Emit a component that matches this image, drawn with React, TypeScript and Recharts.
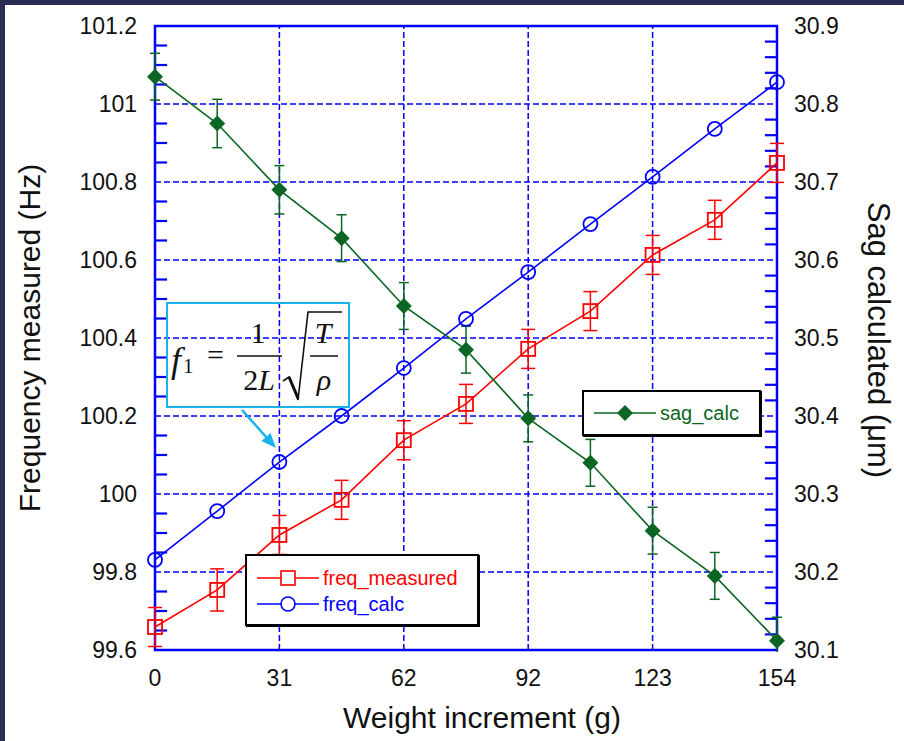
import React from 'react'
import { ComposedChart, Line, XAxis, YAxis, ErrorBar, ReferenceLine, ReferenceArea } from 'recharts'

// weight increments (g)
const weights = [0, 15.4, 30.8, 46.2, 61.6, 77, 92.4, 107.8, 123.2, 138.6, 154]
// left axis (Hz)
const freqMeasured = [99.659, 99.754, 99.895, 99.985, 100.138, 100.231, 100.372, 100.469, 100.613, 100.703, 100.849]
const freqMeasuredErr = [0.05, 0.054, 0.05, 0.05, 0.05, 0.05, 0.05, 0.05, 0.05, 0.05, 0.05]
const freqCalc = [99.831, 99.956, 100.082, 100.2, 100.323, 100.449, 100.569, 100.692, 100.813, 100.936, 101.056]
// right axis (um)
const sagCalc = [30.835, 30.775, 30.69, 30.628, 30.541, 30.485, 30.397, 30.34, 30.253, 30.195, 30.112]
const sagErr = [0.03, 0.031, 0.031, 0.03, 0.03, 0.03, 0.03, 0.03, 0.03, 0.03, 0.03]

const xTicks = [0, 30.8, 61.6, 92.4, 123.2, 154]
const xTickLabels = ['0', '31', '62', '92', '123', '154']
const leftMajor = [99.6, 99.8, 100, 100.2, 100.4, 100.6, 100.8, 101, 101.2]
const rightMajor = [30.1, 30.2, 30.3, 30.4, 30.5, 30.6, 30.7, 30.8, 30.9]

const LEFT_DOMAIN: [number, number] = [99.6, 101.2]
const RIGHT_DOMAIN: [number, number] = [30.1, 30.9]

const W = 904
const H = 741
const PLOT_LEFT = 155
const PLOT_RIGHT = 777
const PLOT_TOP = 26
const PLOT_BOTTOM = 650
const AXIS_W = 60
const XAXIS_H = 40
const MINOR_LEN = 3 // inward tick length, in x data units

const BLUE = '#0000ff'
const RED = '#ff0000'
const GREEN = '#0b6623'
const CYAN = '#1ab2ea'
const FRAME = '#2b2c54'
const SANS = '"Liberation Sans", Arial, sans-serif'
const SERIF = '"Liberation Serif", "Times New Roman", serif'

const withMinor = (majors: number[], parts: number) => {
  const out: number[] = []
  majors.forEach((m, i) => {
    if (i < majors.length - 1) {
      const step = (majors[i + 1] - m) / parts
      for (let k = 1; k < parts; k++) out.push(+(m + step * k).toFixed(4))
    }
  })
  return out
}
const leftMinor = withMinor(leftMajor, 4)
const rightMinor = withMinor(rightMajor, 5)
// the right axis keeps overflow clipping, so its minor marks are placed on the left scale
const rightToLeft = (v: number) =>
  LEFT_DOMAIN[0] + ((v - RIGHT_DOMAIN[0]) / (RIGHT_DOMAIN[1] - RIGHT_DOMAIN[0])) * (LEFT_DOMAIN[1] - LEFT_DOMAIN[0])

const data = weights.map((w, i) => ({
  w,
  measured: freqMeasured[i],
  measuredErr: freqMeasuredErr[i],
  calc: freqCalc[i],
  sag: sagCalc[i],
  sagErr: sagErr[i],
}))

const LeftTick = (props: any) => {
  const { y, payload } = props
  return (
    <text x={PLOT_LEFT - 18} y={y} dy="0.36em" textAnchor="end" fontSize={23} fill="#111" fontFamily={SANS}>
      {String(parseFloat(payload.value.toFixed(1)))}
    </text>
  )
}

const RightTick = (props: any) => {
  const { y, payload } = props
  return (
    <text x={PLOT_RIGHT + 17} y={y} dy="0.36em" textAnchor="start" fontSize={23} fill="#111" fontFamily={SANS}>
      {payload.value.toFixed(1)}
    </text>
  )
}

const BottomTick = (props: any) => {
  const { x, index } = props
  return (
    <text x={x} y={PLOT_BOTTOM + 36} textAnchor="middle" fontSize={23} fill="#111" fontFamily={SANS}>
      {xTickLabels[index]}
    </text>
  )
}

const SquareDot = (p: any) => {
  if (p.cx == null || p.cy == null) return <g key={p.index} />
  return <rect key={p.index} x={p.cx - 7} y={p.cy - 7} width={14} height={14} fill="none" stroke={RED} strokeWidth={1.8} />
}

const CircleDot = (p: any) => {
  if (p.cx == null || p.cy == null) return <g key={p.index} />
  return <circle key={p.index} cx={p.cx} cy={p.cy} r={7} fill="none" stroke={BLUE} strokeWidth={1.8} />
}

const DiamondDot = (p: any) => {
  if (p.cx == null || p.cy == null) return <g key={p.index} />
  const { cx, cy } = p
  return <polygon key={p.index} points={`${cx},${cy - 8} ${cx + 8},${cy} ${cx},${cy + 8} ${cx - 8},${cy}`} fill={GREEN} />
}

const legendBox: React.CSSProperties = {
  position: 'absolute',
  background: '#fff',
  border: '2px solid #000',
  boxShadow: '1px 1px 0 #000',
  boxSizing: 'border-box',
  fontFamily: SANS,
  fontSize: 20,
}

const LegendRow = ({ color, label, marker }: { color: string; label: string; marker: React.ReactNode }) => (
  <div style={{ display: 'flex', alignItems: 'center', height: 26, color }}>
    <svg width={66} height={20} style={{ marginLeft: 10 }}>
      <line x1={0} x2={62} y1={10} y2={10} stroke={color} strokeWidth={1.5} />
      {marker}
    </svg>
    <span>{label}</span>
  </div>
)

export default function App() {
  return (
    <div style={{ position: 'absolute', left: 0, top: 0, width: W, height: H, background: FRAME }}>
      <div style={{ position: 'absolute', left: 5, top: 5, right: 0, bottom: 0, background: '#fff' }} />
      <div style={{ position: 'absolute', left: 0, top: 0 }}>
        <ComposedChart
          width={W}
          height={H}
          data={data}
          margin={{
            top: PLOT_TOP,
            right: W - PLOT_RIGHT - AXIS_W,
            bottom: H - PLOT_BOTTOM - XAXIS_H,
            left: PLOT_LEFT - AXIS_W,
          }}
        >
          <XAxis
            dataKey="w"
            type="number"
            domain={[0, 154]}
            ticks={xTicks}
            interval={0}
            height={XAXIS_H}
            axisLine={false}
            tickLine={false}
            tick={<BottomTick />}
          />
          <YAxis
            yAxisId="left"
            domain={LEFT_DOMAIN}
            ticks={leftMajor}
            interval={0}
            width={AXIS_W}
            axisLine={false}
            tickLine={false}
            tick={<LeftTick />}
          />
          <YAxis
            yAxisId="right"
            orientation="right"
            domain={RIGHT_DOMAIN}
            ticks={rightMajor}
            interval={0}
            allowDataOverflow
            width={AXIS_W}
            axisLine={false}
            tickLine={false}
            tick={<RightTick />}
          />
          <ReferenceArea yAxisId="left" x1={0} x2={154} y1={99.6} y2={101.2} fill="none" stroke={BLUE} strokeWidth={2.5} />
          {leftMajor.slice(1, -1).map((v) => (
            <ReferenceLine key={'h' + v} yAxisId="left" y={v} stroke={BLUE} strokeWidth={1.5} strokeDasharray="6 3" />
          ))}
          {xTicks.slice(1, -1).map((v) => (
            <ReferenceLine key={'v' + v} yAxisId="left" x={v} stroke={BLUE} strokeWidth={1.5} strokeDasharray="6 3" />
          ))}
          {leftMinor.map((v) => (
            <ReferenceLine
              key={'lm' + v}
              yAxisId="left"
              segment={[{ x: 0, y: v }, { x: MINOR_LEN, y: v }]}
              stroke={BLUE}
              strokeWidth={2.2}
            />
          ))}
          {rightMinor.map((v) => (
            <ReferenceLine
              key={'rm' + v}
              yAxisId="left"
              segment={[{ x: 154 - MINOR_LEN, y: rightToLeft(v) }, { x: 154, y: rightToLeft(v) }]}
              stroke={BLUE}
              strokeWidth={2.2}
            />
          ))}
          <Line
            yAxisId="left"
            dataKey="measured"
            name="freq_measured"
            type="linear"
            stroke={RED}
            strokeWidth={1.6}
            dot={SquareDot}
            activeDot={false}
            isAnimationActive={false}
          >
            <ErrorBar dataKey="measuredErr" direction="y" width={7} stroke={RED} strokeWidth={1.5} isAnimationActive={false} />
          </Line>
          <Line
            yAxisId="left"
            dataKey="calc"
            name="freq_calc"
            type="linear"
            stroke={BLUE}
            strokeWidth={1.6}
            dot={CircleDot}
            activeDot={false}
            isAnimationActive={false}
          />
          <Line
            yAxisId="right"
            dataKey="sag"
            name="sag_calc"
            type="linear"
            stroke={GREEN}
            strokeWidth={1.6}
            dot={DiamondDot}
            activeDot={false}
            isAnimationActive={false}
          >
            <ErrorBar dataKey="sagErr" direction="y" width={5} stroke={GREEN} strokeWidth={1.5} isAnimationActive={false} />
          </Line>
        </ComposedChart>
      </div>

      {/* axis titles and the formula callout */}
      <svg width={W} height={H} style={{ position: 'absolute', left: 0, top: 0, pointerEvents: 'none' }}>
        {/* error bars are clipped at the plot frame */}
        <rect x={PLOT_RIGHT - 10} y={PLOT_BOTTOM + 2} width={20} height={17} fill="#fff" />
        <text transform="translate(40,338) rotate(-90)" textAnchor="middle" fontSize={30} fontFamily={SANS} fill="#111">
          Frequency measured (Hz)
        </text>
        <text transform="translate(868,340) rotate(90)" textAnchor="middle" fontSize={31} fontFamily={SANS} fill="#111">
          Sag calculated (μm)
        </text>
        <text x={482} y={728} textAnchor="middle" fontSize={30} fontFamily={SANS} fill="#111">
          Weight increment (g)
        </text>

        <rect x={167} y={303} width={182} height={104} fill="none" stroke={CYAN} strokeWidth={2} />
        <g fontFamily={SERIF} fill="#111">
          <text x={171} y={372} fontSize={36} fontStyle="italic">f</text>
          <text x={183} y={373} fontSize={21}>1</text>
          <text x={207} y={365} fontSize={30}>=</text>
          <line x1={237} x2={282} y1={356} y2={356} stroke="#111" strokeWidth={1.5} />
          <text x={258} y={343} fontSize={30} textAnchor="middle">1</text>
          <text x={259} y={390} fontSize={30} textAnchor="middle">
            2<tspan fontStyle="italic">L</tspan>
          </text>
          <path d="M283,381 L289,377 L298,400 L308,312 L342,312" fill="none" stroke="#111" strokeWidth={1.6} />
          <path d="M289,377 L298,398" fill="none" stroke="#111" strokeWidth={3} />
          <line x1={310} x2={338} y1={356} y2={356} stroke="#111" strokeWidth={1.5} />
          <text x={323} y={343} fontSize={30} fontStyle="italic" textAnchor="middle">T</text>
          <text x={324} y={390} fontSize={30} fontStyle="italic" textAnchor="middle">ρ</text>
        </g>
        <line x1={242} y1={410} x2={267} y2={438} stroke={CYAN} strokeWidth={2.5} />
        <polygon points="276,448 261.5,441 270.5,433" fill={CYAN} />
      </svg>

      <div style={{ ...legendBox, left: 245, top: 554, width: 234, height: 72, paddingTop: 9 }}>
        <LegendRow
          color={RED}
          label="freq_measured"
          marker={<rect x={24} y={3} width={14} height={14} fill="#fff" stroke={RED} strokeWidth={1.6} />}
        />
        <LegendRow
          color={BLUE}
          label="freq_calc"
          marker={<circle cx={31} cy={10} r={7} fill="#fff" stroke={BLUE} strokeWidth={1.6} />}
        />
      </div>
      <div style={{ ...legendBox, left: 582, top: 390, width: 179, height: 46, paddingTop: 8 }}>
        <LegendRow
          color={GREEN}
          label="sag_calc"
          marker={<polygon points="31,2 39,10 31,18 23,10" fill={GREEN} />}
        />
      </div>
    </div>
  )
}
